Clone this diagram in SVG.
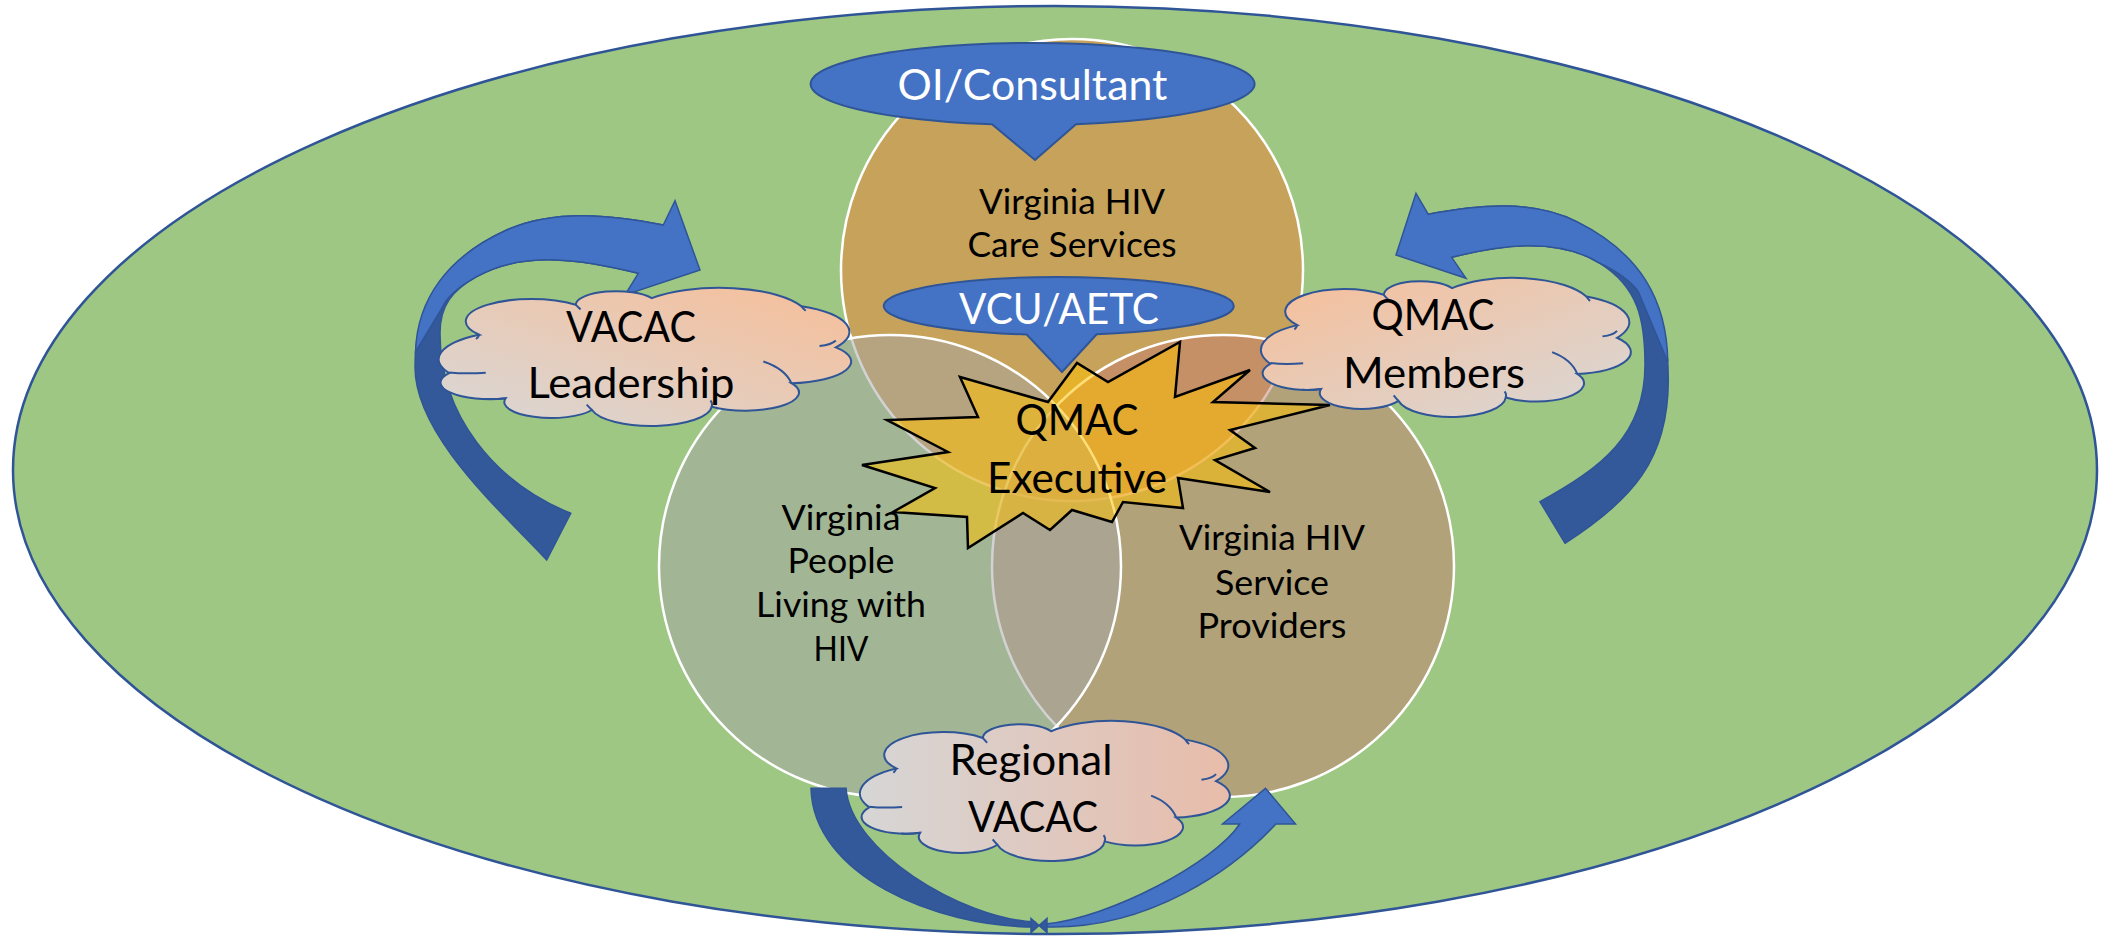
<svg xmlns="http://www.w3.org/2000/svg" xmlns:xlink="http://www.w3.org/1999/xlink" width="2108" height="947" viewBox="0 0 2108 947">
<defs>
<style>
.lbl{font-family:Lato,"Liberation Sans",sans-serif;fill:#000;text-anchor:middle}
.big{font-size:42px}
.mid{font-size:34px}
.call{font-size:43px;fill:#fff}
.circ{stroke:#fff;stroke-width:2.5}
.callout{fill:#4472C4;stroke:#2F5597;stroke-width:2}
.cloud{stroke:#2F5597;stroke-width:2}
.inner{fill:none;stroke:#2F5597;stroke-width:2}
.arrL{fill:#4472C4;stroke:#2F5597;stroke-width:1.5;stroke-linejoin:miter}
.arrD{fill:#34599A;stroke:#2F5597;stroke-width:1.5;stroke-linejoin:miter}
</style>
<linearGradient id="gV" x1="0" y1="1" x2="1" y2="0"><stop offset="0" stop-color="#D8D8D8"/><stop offset="1" stop-color="#F7BE98"/></linearGradient>
<linearGradient id="gQ" x1="0" y1="0" x2="1" y2="1"><stop offset="0" stop-color="#F7BE98"/><stop offset="1" stop-color="#D8D8D8"/></linearGradient>
<linearGradient id="gR" x1="0" y1="0" x2="1" y2="0"><stop offset="0" stop-color="#D6D6D6"/><stop offset="1" stop-color="#E8BCAA"/></linearGradient>
<path id="cloudOutline" vector-effect="non-scaling-stroke" d="M 9.4,33.9 A 16.17 16.17 0 0 1 33.1,12.1 A 10.02 10.02 0 0 1 51.8,7.3 A 22 22 0 0 1 88.6,13.3 A 20.4 20.4 0 0 1 97,43 A 15.79 15.79 0 0 1 86.1,69 A 13.18 13.18 0 0 1 66.5,86 A 14.9 14.9 0 0 1 37.1,88.4 A 11.53 11.53 0 0 1 15.9,79.9 A 12.05 12.05 0 0 1 2,61.7 A 20.8 20.8 0 0 1 9.4,33.9 Z"/>
<path id="cloudInner" vector-effect="non-scaling-stroke" d="M 86.1,69 Q 84.5,58.5 79.2,53.3 M 97,38 Q 96,41 93,42 M 15.9,79.9 Q 13.5,80.8 10.8,80.4 M 2,61.2 Q 6,62.4 11,61.4 M 9.4,33.9 Q 9.2,35.5 8.6,37 M 33.1,12.1 Q 33.6,13.8 34.3,15.5 M 66.5,86 Q 66.8,83.5 66.2,81.5 M 37.1,88.4 Q 36.4,86.5 35.8,84.5 M 88.6,13.3 Q 89,15 89.6,16.5"/>
</defs>

<g id="background">
<ellipse cx="1055" cy="470" rx="1042" ry="464" fill="#9EC784" stroke="#2F5597" stroke-width="2.5"/>
</g>

<g id="circle-care-services">
<circle cx="1072" cy="270" r="231" fill="#ED7D31" fill-opacity="0.5" class="circ"/>
<text class="lbl mid" x="1072" y="214" textLength="186" lengthAdjust="spacingAndGlyphs">Virginia HIV</text>
<text class="lbl mid" x="1072" y="257" textLength="209" lengthAdjust="spacingAndGlyphs">Care Services</text>
</g>

<g id="circle-service-providers">
<circle cx="1223" cy="566" r="231" fill="#C37D6F" fill-opacity="0.5" class="circ"/>
<text class="lbl mid" x="1272" y="550" textLength="186" lengthAdjust="spacingAndGlyphs">Virginia HIV</text>
<text class="lbl mid" x="1272" y="595" textLength="114" lengthAdjust="spacingAndGlyphs">Service</text>
<text class="lbl mid" x="1272" y="638" textLength="149" lengthAdjust="spacingAndGlyphs">Providers</text>
</g>

<g id="circle-people-living-with-hiv">
<circle cx="890" cy="566" r="231" fill="#A5A5A5" fill-opacity="0.5" class="circ"/>
<text class="lbl mid" x="841" y="530" textLength="119" lengthAdjust="spacingAndGlyphs">Virginia</text>
<text class="lbl mid" x="841" y="573" textLength="107" lengthAdjust="spacingAndGlyphs">People</text>
<text class="lbl mid" x="841" y="617" textLength="170" lengthAdjust="spacingAndGlyphs">Living with</text>
<text class="lbl mid" x="841" y="661" textLength="55" lengthAdjust="spacingAndGlyphs">HIV</text>
</g>

<g id="qmac-executive">
<polygon points="960,377 978,417 887,420 948,452 862,465 935,488 893,512 967,517 968,548 1023,513 1050,530 1072,510 1112,522 1123,502 1183,508 1178,478 1270,492 1215,460 1255,448 1230,430 1330,405 1213,402 1250,370 1175,397 1180,342 1108,382 1077,363 1048,402" fill="#FFC000" fill-opacity="0.53" stroke="#000" stroke-width="2.5" stroke-linejoin="miter"/>
<text class="lbl big" x="1077" y="435" textLength="123" lengthAdjust="spacingAndGlyphs">QMAC</text>
<text class="lbl big" x="1077" y="493" textLength="180" lengthAdjust="spacingAndGlyphs">Executive</text>
</g>

<g id="vcu-aetc">
<path class="callout" d="M 1096.7,334.3 A 175 29 0 1 0 1026.7,334.5 L 1062,372 Z"/>
<text class="lbl call" x="1059" y="324" textLength="200" lengthAdjust="spacingAndGlyphs">VCU/AETC</text>
</g>

<g id="oi-consultant">
<path class="callout" d="M 1076,124.2 A 222 41 0 1 0 992,124.3 L 1035,160 Z"/>
<text class="lbl call" x="1032.5" y="100" textLength="270" lengthAdjust="spacingAndGlyphs">OI/Consultant</text>
</g>

<g id="connectors">
<g id="arrow-vacac-leadership">
<path class="arrD" d="M 546.7,560 C 500,510 415,435 415,367 C 415,301 446.7,257 506.7,230 C 554,208.7 612.3,214.8 663.3,225 L 638.3,273.3 C 585,260 524.5,249.8 476.7,276.7 C 452.3,290.4 440,305.3 440,333.3 C 440,415 494,482 570.7,513.3 Z"/>
<path class="arrL" d="M 415.5,352 C 417,300 446.7,257 506.7,230 C 554,208.7 612.3,214.8 663.3,225 L 675,200.7 L 700,270 L 625,295 L 638.3,273.3 C 585,260 524.5,249.8 476.7,276.7 C 458,287 446,298 441.5,309 Z"/>
</g>
<g id="arrow-qmac-members">
<path class="arrD" d="M 1428.3,214.3 C 1477.3,204.8 1532.2,199.2 1576.7,221.7 C 1643.5,255.5 1668.3,305 1668.3,380 C 1668.3,460 1632.2,500.1 1565,543.3 L 1540,501.7 C 1601.3,468 1645,435 1645,365 C 1645,320 1638.3,287.2 1600,263.3 C 1557.5,236.8 1500.2,244.8 1451.7,257.3 Z"/>
<path class="arrL" d="M 1416,193.3 L 1428.3,214.3 C 1477.3,204.8 1532.2,199.2 1576.7,221.7 C 1640,253 1667,300 1667.8,362 L 1638.5,292 C 1630,280 1618,272 1600,263.3 C 1557.5,236.8 1500.2,244.8 1451.7,257.3 L 1466,278.3 L 1396,255 Z"/>
</g>
<g id="arrow-regional-vacac">
<path class="arrD" d="M 811,788.3 L 846.1,788.3 C 850,850 960,918 1034.8,922 L 1034.8,927 C 935,927 813,875 811,788.3 Z"/>
<path class="arrL" d="M 1045.2,927 C 1150,930 1235,868 1275.9,824 L 1295.5,824 L 1265.5,788.3 L 1222.5,824 L 1239.7,824 C 1215,862 1110,918 1045.2,924 Z"/>
<path class="arrD" d="M 1031,918.5 L 1039,925.5 L 1047,918.5 L 1047,932.5 L 1039,925.5 L 1031,932.5 Z"/>
</g>
</g>

<g id="vacac-leadership">
<use xlink:href="#cloudOutline" href="#cloudOutline" class="cloud" fill="url(#gV)" transform="translate(441,288) scale(4.07,1.38)"/>
<use xlink:href="#cloudInner" href="#cloudInner" class="inner" transform="translate(441,288) scale(4.07,1.38)"/>
<text class="lbl big" x="631" y="342" textLength="130" lengthAdjust="spacingAndGlyphs">VACAC</text>
<text class="lbl big" x="631" y="398" textLength="207" lengthAdjust="spacingAndGlyphs">Leadership</text>
</g>

<g id="qmac-members">
<use xlink:href="#cloudOutline" href="#cloudOutline" class="cloud" fill="url(#gQ)" transform="translate(1263,278) scale(3.65,1.39)"/>
<use xlink:href="#cloudInner" href="#cloudInner" class="inner" transform="translate(1263,278) scale(3.65,1.39)"/>
<text class="lbl big" x="1433" y="330" textLength="123" lengthAdjust="spacingAndGlyphs">QMAC</text>
<text class="lbl big" x="1434" y="388" textLength="182" lengthAdjust="spacingAndGlyphs">Members</text>
</g>

<g id="regional-vacac">
<use xlink:href="#cloudOutline" href="#cloudOutline" class="cloud" fill="url(#gR)" transform="translate(862,721) scale(3.65,1.40)"/>
<use xlink:href="#cloudInner" href="#cloudInner" class="inner" transform="translate(862,721) scale(3.65,1.40)"/>
<text class="lbl big" x="1031" y="775" textLength="163" lengthAdjust="spacingAndGlyphs">Regional</text>
<text class="lbl big" x="1033" y="832" textLength="130" lengthAdjust="spacingAndGlyphs">VACAC</text>
</g>
</svg>
